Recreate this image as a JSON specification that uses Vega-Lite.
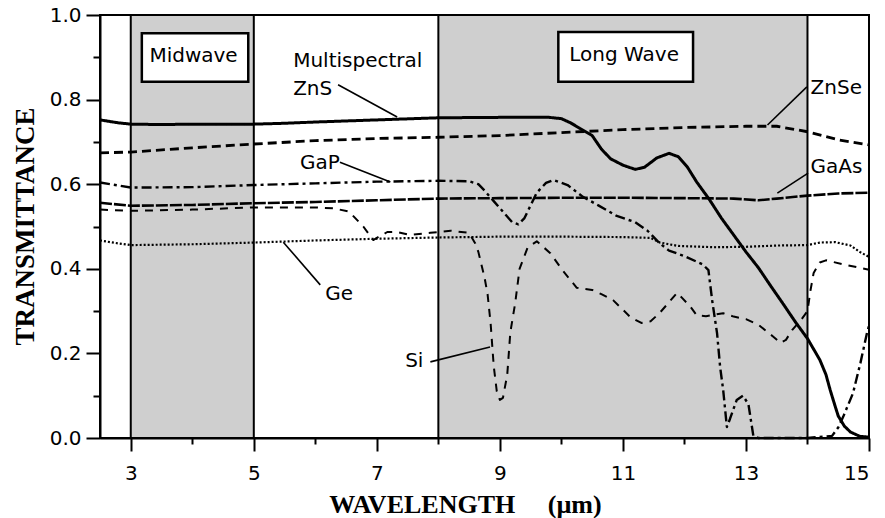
{
 "$schema": "https://vega.github.io/schema/vega-lite/v6.json",
 "width": 769,
 "height": 423,
 "autosize": "none",
 "padding": {"left": 100, "top": 15, "right": 16, "bottom": 80},
 "background": "white",
 "config": {
  "view": {"stroke": "black", "strokeWidth": 2},
  "axis": {"domainColor": "black", "domainWidth": 2, "tickColor": "black", "tickWidth": 2, "labelColor": "black", "labelFont": "DejaVu Sans", "labelFontSize": 20, "titleColor": "black", "titleFont": "Liberation Serif", "titleFontWeight": "bold", "grid": false}
 },
 "datasets": {
  "bands": [{"start": 3, "end": 5}, {"start": 8, "end": 14}],
  "boxes": [
   {"name": "Midwave", "x0": 3.18, "x1": 4.91, "y0": 0.842, "y1": 0.957, "cx": 4.02, "cy": 0.902},
   {"name": "Long Wave", "x0": 9.95, "x1": 12.14, "y0": 0.842, "y1": 0.96, "cx": 11.02, "cy": 0.905}
  ],
  "labels": [
   {"text": "Multispectral", "x": 5.64, "y": 0.892},
   {"text": "ZnS", "x": 5.64, "y": 0.824},
   {"text": "GaP", "x": 5.75, "y": 0.651},
   {"text": "Ge", "x": 6.16, "y": 0.34},
   {"text": "Si", "x": 7.46, "y": 0.182},
   {"text": "ZnSe", "x": 14.05, "y": 0.827},
   {"text": "GaAs", "x": 14.05, "y": 0.641}
  ],
  "leaders": [
   {"m": "ZnS", "x": 6.37, "y": 0.835, "x2": 7.33, "y2": 0.759},
   {"m": "GaP", "x": 6.4, "y": 0.652, "x2": 7.22, "y2": 0.605},
   {"m": "Ge", "x": 5.48, "y": 0.463, "x2": 6.08, "y2": 0.362},
   {"m": "Si", "x": 7.87, "y": 0.18, "x2": 8.84, "y2": 0.215},
   {"m": "ZnSe", "x": 13.99, "y": 0.83, "x2": 13.35, "y2": 0.74},
   {"m": "GaAs", "x": 14.01, "y": 0.626, "x2": 13.51, "y2": 0.579}
  ],
  "curves": [
   {"m":"ZnS","x":2.5,"y":0.752},{"m":"ZnS","x":2.8,"y":0.745},{"m":"ZnS","x":3.0,"y":0.742},{"m":"ZnS","x":3.5,"y":0.741},{"m":"ZnS","x":4.0,"y":0.742},{"m":"ZnS","x":5.0,"y":0.742},{"m":"ZnS","x":5.5,"y":0.744},{"m":"ZnS","x":6.0,"y":0.747},{"m":"ZnS","x":7.0,"y":0.752},{"m":"ZnS","x":8.0,"y":0.757},{"m":"ZnS","x":9.0,"y":0.758},{"m":"ZnS","x":9.8,"y":0.758},{"m":"ZnS","x":10.0,"y":0.755},{"m":"ZnS","x":10.15,"y":0.745},{"m":"ZnS","x":10.3,"y":0.732},{"m":"ZnS","x":10.5,"y":0.715},{"m":"ZnS","x":10.65,"y":0.683},{"m":"ZnS","x":10.8,"y":0.66},{"m":"ZnS","x":11.0,"y":0.645},{"m":"ZnS","x":11.2,"y":0.635},{"m":"ZnS","x":11.35,"y":0.64},{"m":"ZnS","x":11.55,"y":0.662},{"m":"ZnS","x":11.75,"y":0.673},{"m":"ZnS","x":11.9,"y":0.665},{"m":"ZnS","x":12.05,"y":0.64},{"m":"ZnS","x":12.2,"y":0.605},{"m":"ZnS","x":12.4,"y":0.565},{"m":"ZnS","x":12.6,"y":0.52},{"m":"ZnS","x":12.8,"y":0.48},{"m":"ZnS","x":13.0,"y":0.44},{"m":"ZnS","x":13.2,"y":0.403},{"m":"ZnS","x":13.4,"y":0.36},{"m":"ZnS","x":13.6,"y":0.318},{"m":"ZnS","x":13.8,"y":0.275},{"m":"ZnS","x":14.0,"y":0.235},{"m":"ZnS","x":14.2,"y":0.185},{"m":"ZnS","x":14.3,"y":0.15},{"m":"ZnS","x":14.37,"y":0.113},{"m":"ZnS","x":14.45,"y":0.075},{"m":"ZnS","x":14.5,"y":0.052},{"m":"ZnS","x":14.6,"y":0.028},{"m":"ZnS","x":14.7,"y":0.014},{"m":"ZnS","x":14.85,"y":0.004},{"m":"ZnS","x":15.0,"y":0.002},
   {"m":"ZnSe","x":2.5,"y":0.674},{"m":"ZnSe","x":3,"y":0.676},{"m":"ZnSe","x":4,"y":0.686},{"m":"ZnSe","x":5,"y":0.695},{"m":"ZnSe","x":6,"y":0.703},{"m":"ZnSe","x":7,"y":0.708},{"m":"ZnSe","x":8,"y":0.711},{"m":"ZnSe","x":9,"y":0.715},{"m":"ZnSe","x":10,"y":0.722},{"m":"ZnSe","x":11,"y":0.729},{"m":"ZnSe","x":12,"y":0.734},{"m":"ZnSe","x":13,"y":0.737},{"m":"ZnSe","x":13.5,"y":0.737},{"m":"ZnSe","x":14,"y":0.724},{"m":"ZnSe","x":14.5,"y":0.705},{"m":"ZnSe","x":15,"y":0.693},
   {"m":"GaAs","x":2.5,"y":0.556},{"m":"GaAs","x":3,"y":0.549},{"m":"GaAs","x":4,"y":0.551},{"m":"GaAs","x":5,"y":0.555},{"m":"GaAs","x":6,"y":0.558},{"m":"GaAs","x":7,"y":0.562},{"m":"GaAs","x":8,"y":0.566},{"m":"GaAs","x":9,"y":0.567},{"m":"GaAs","x":10,"y":0.568},{"m":"GaAs","x":11,"y":0.568},{"m":"GaAs","x":12,"y":0.567},{"m":"GaAs","x":12.8,"y":0.566},{"m":"GaAs","x":13.2,"y":0.562},{"m":"GaAs","x":13.5,"y":0.566},{"m":"GaAs","x":14,"y":0.573},{"m":"GaAs","x":14.5,"y":0.578},{"m":"GaAs","x":15,"y":0.58},
   {"m":"GaP","x":2.5,"y":0.604},{"m":"GaP","x":2.8,"y":0.597},{"m":"GaP","x":3,"y":0.592},{"m":"GaP","x":4,"y":0.593},{"m":"GaP","x":5,"y":0.598},{"m":"GaP","x":6,"y":0.602},{"m":"GaP","x":7,"y":0.606},{"m":"GaP","x":8,"y":0.608},{"m":"GaP","x":8.5,"y":0.607},{"m":"GaP","x":8.65,"y":0.6},{"m":"GaP","x":8.75,"y":0.585},{"m":"GaP","x":8.9,"y":0.56},{"m":"GaP","x":9.05,"y":0.535},{"m":"GaP","x":9.2,"y":0.51},{"m":"GaP","x":9.3,"y":0.505},{"m":"GaP","x":9.4,"y":0.52},{"m":"GaP","x":9.5,"y":0.55},{"m":"GaP","x":9.6,"y":0.58},{"m":"GaP","x":9.75,"y":0.603},{"m":"GaP","x":9.87,"y":0.61},{"m":"GaP","x":10.1,"y":0.598},{"m":"GaP","x":10.35,"y":0.57},{"m":"GaP","x":10.6,"y":0.55},{"m":"GaP","x":10.9,"y":0.525},{"m":"GaP","x":11.2,"y":0.51},{"m":"GaP","x":11.4,"y":0.49},{"m":"GaP","x":11.6,"y":0.46},{"m":"GaP","x":11.75,"y":0.443},{"m":"GaP","x":12.0,"y":0.43},{"m":"GaP","x":12.3,"y":0.41},{"m":"GaP","x":12.39,"y":0.397},{"m":"GaP","x":12.45,"y":0.326},{"m":"GaP","x":12.53,"y":0.248},{"m":"GaP","x":12.58,"y":0.168},{"m":"GaP","x":12.63,"y":0.113},{"m":"GaP","x":12.69,"y":0.026},{"m":"GaP","x":12.74,"y":0.045},{"m":"GaP","x":12.85,"y":0.09},{"m":"GaP","x":12.95,"y":0.1},{"m":"GaP","x":13.04,"y":0.08},{"m":"GaP","x":13.12,"y":0.005},{"m":"GaP","x":13.2,"y":0.0},{"m":"GaP","x":14.0,"y":0.0},{"m":"GaP","x":14.4,"y":0.005},{"m":"GaP","x":14.5,"y":0.025},{"m":"GaP","x":14.58,"y":0.05},{"m":"GaP","x":14.74,"y":0.106},{"m":"GaP","x":14.86,"y":0.177},{"m":"GaP","x":14.97,"y":0.25},{"m":"GaP","x":15.0,"y":0.265},
   {"m":"Ge","x":2.5,"y":0.467},{"m":"Ge","x":2.8,"y":0.46},{"m":"Ge","x":3,"y":0.456},{"m":"Ge","x":4,"y":0.458},{"m":"Ge","x":5,"y":0.462},{"m":"Ge","x":6,"y":0.467},{"m":"Ge","x":7,"y":0.471},{"m":"Ge","x":8,"y":0.474},{"m":"Ge","x":9,"y":0.476},{"m":"Ge","x":10,"y":0.476},{"m":"Ge","x":11,"y":0.475},{"m":"Ge","x":11.45,"y":0.473},{"m":"Ge","x":11.6,"y":0.462},{"m":"Ge","x":11.9,"y":0.454},{"m":"Ge","x":12.5,"y":0.451},{"m":"Ge","x":13,"y":0.452},{"m":"Ge","x":13.5,"y":0.455},{"m":"Ge","x":14,"y":0.456},{"m":"Ge","x":14.2,"y":0.462},{"m":"Ge","x":14.45,"y":0.463},{"m":"Ge","x":14.7,"y":0.455},{"m":"Ge","x":14.85,"y":0.44},{"m":"Ge","x":15,"y":0.428},
   {"m":"Si","x":2.5,"y":0.54},{"m":"Si","x":3,"y":0.537},{"m":"Si","x":4,"y":0.54},{"m":"Si","x":5,"y":0.545},{"m":"Si","x":6,"y":0.545},{"m":"Si","x":6.3,"y":0.543},{"m":"Si","x":6.55,"y":0.535},{"m":"Si","x":6.78,"y":0.5},{"m":"Si","x":6.94,"y":0.468},{"m":"Si","x":7.17,"y":0.487},{"m":"Si","x":7.33,"y":0.487},{"m":"Si","x":7.54,"y":0.48},{"m":"Si","x":7.87,"y":0.485},{"m":"Si","x":8.2,"y":0.49},{"m":"Si","x":8.5,"y":0.485},{"m":"Si","x":8.6,"y":0.46},{"m":"Si","x":8.65,"y":0.44},{"m":"Si","x":8.75,"y":0.38},{"m":"Si","x":8.8,"y":0.34},{"m":"Si","x":8.85,"y":0.27},{"m":"Si","x":8.9,"y":0.17},{"m":"Si","x":8.95,"y":0.11},{"m":"Si","x":9.0,"y":0.09},{"m":"Si","x":9.05,"y":0.095},{"m":"Si","x":9.12,"y":0.15},{"m":"Si","x":9.17,"y":0.25},{"m":"Si","x":9.25,"y":0.32},{"m":"Si","x":9.32,"y":0.4},{"m":"Si","x":9.45,"y":0.45},{"m":"Si","x":9.6,"y":0.465},{"m":"Si","x":9.82,"y":0.437},{"m":"Si","x":10.0,"y":0.4},{"m":"Si","x":10.25,"y":0.355},{"m":"Si","x":10.5,"y":0.35},{"m":"Si","x":10.65,"y":0.34},{"m":"Si","x":10.84,"y":0.326},{"m":"Si","x":11.12,"y":0.286},{"m":"Si","x":11.3,"y":0.272},{"m":"Si","x":11.45,"y":0.276},{"m":"Si","x":11.6,"y":0.296},{"m":"Si","x":11.88,"y":0.343},{"m":"Si","x":11.95,"y":0.333},{"m":"Si","x":12.1,"y":0.31},{"m":"Si","x":12.2,"y":0.29},{"m":"Si","x":12.35,"y":0.288},{"m":"Si","x":12.63,"y":0.295},{"m":"Si","x":12.8,"y":0.287},{"m":"Si","x":13.0,"y":0.281},{"m":"Si","x":13.2,"y":0.268},{"m":"Si","x":13.44,"y":0.24},{"m":"Si","x":13.56,"y":0.225},{"m":"Si","x":13.65,"y":0.232},{"m":"Si","x":13.75,"y":0.255},{"m":"Si","x":13.9,"y":0.28},{"m":"Si","x":14.0,"y":0.3},{"m":"Si","x":14.05,"y":0.35},{"m":"Si","x":14.1,"y":0.39},{"m":"Si","x":14.2,"y":0.415},{"m":"Si","x":14.3,"y":0.42},{"m":"Si","x":14.6,"y":0.41},{"m":"Si","x":15,"y":0.398}
  ]
 },
 "layer": [
  {
   "data": {"name": "bands"},
   "mark": {"type": "rect", "fill": "#cfcfcf", "stroke": "black", "strokeWidth": 2},
   "encoding": {
    "x": {"field": "start", "type": "quantitative", "scale": {"domain": [2.5, 15], "nice": false, "zero": false},
     "axis": {"values": [3,4,5,6,7,8,9,10,11,12,13,14,15], "format": "d", "labelExpr": "datum.value % 2 == 1 ? datum.label : ''",
      "tickSize": {"condition": {"test": "datum.value % 2 == 0", "value": 6}, "value": 13},
      "labelPadding": 12, "titleFontSize": 26, "titleX": 365, "titleY": 74, "titleAlign": "center", "titleBaseline": "alphabetic"},
     "title": "WAVELENGTH\u00a0\u00a0\u00a0\u00a0\u00a0(µm)"},
    "x2": {"field": "end"},
    "y": {"datum": 0, "type": "quantitative", "scale": {"domain": [0, 1], "nice": false, "zero": false},
     "axis": {"values": [0,0.1,0.2,0.3,0.4,0.5,0.6,0.7,0.8,0.9,1.0], "format": ".1f", "labelExpr": "round(datum.value*10) % 2 == 0 ? datum.label : ''",
      "tickSize": {"condition": {"test": "round(datum.value*10) % 2 == 1", "value": 7}, "value": 14},
      "labelPadding": 5, "titleFontSize": 27, "titleX": -67, "titleY": 211, "titleAngle": -90, "titleAlign": "center", "titleBaseline": "alphabetic"},
     "title": "TRANSMITTANCE"},
    "y2": {"datum": 1}
   }
  },
  {
   "data": {"name": "curves"},
   "mark": {"type": "line", "color": "black", "strokeCap": "butt", "strokeJoin": "round"},
   "encoding": {
    "x": {"field": "x", "type": "quantitative", "title": "WAVELENGTH\u00a0\u00a0\u00a0\u00a0\u00a0(µm)"},
    "y": {"field": "y", "type": "quantitative", "title": "TRANSMITTANCE"},
    "strokeDash": {"field": "m", "type": "nominal", "scale": {"domain": ["ZnS","ZnSe","GaAs","GaP","Ge","Si"], "range": [[1,0],[9,5],[12,2],[10,4,3,4],[2,2],[8,7]]}, "legend": null},
    "strokeWidth": {"field": "m", "type": "nominal", "scale": {"domain": ["ZnS","ZnSe","GaAs","GaP","Ge","Si"], "range": [3,2,1.6,2,2,2]}, "legend": null}
   }
  },
  {
   "data": {"name": "leaders"},
   "mark": {"type": "rule", "color": "black", "strokeWidth": 1.6},
   "encoding": {
    "x": {"field": "x", "type": "quantitative", "title": "WAVELENGTH\u00a0\u00a0\u00a0\u00a0\u00a0(µm)"},
    "y": {"field": "y", "type": "quantitative", "title": "TRANSMITTANCE"},
    "x2": {"field": "x2"},
    "y2": {"field": "y2"}
   }
  },
  {
   "data": {"name": "boxes"},
   "mark": {"type": "rect", "fill": "white", "stroke": "black", "strokeWidth": 2.5},
   "encoding": {
    "x": {"field": "x0", "type": "quantitative", "title": "WAVELENGTH\u00a0\u00a0\u00a0\u00a0\u00a0(µm)"},
    "x2": {"field": "x1"},
    "y": {"field": "y0", "type": "quantitative", "title": "TRANSMITTANCE"},
    "y2": {"field": "y1"}
   }
  },
  {
   "data": {"name": "boxes"},
   "mark": {"type": "text", "font": "DejaVu Sans", "fontSize": 20, "color": "black", "align": "center", "baseline": "middle"},
   "encoding": {
    "x": {"field": "cx", "type": "quantitative", "title": "WAVELENGTH\u00a0\u00a0\u00a0\u00a0\u00a0(µm)"},
    "y": {"field": "cy", "type": "quantitative", "title": "TRANSMITTANCE"},
    "text": {"field": "name"}
   }
  },
  {
   "data": {"name": "labels"},
   "mark": {"type": "text", "font": "DejaVu Sans", "fontSize": 20, "color": "black", "align": "left", "baseline": "middle"},
   "encoding": {
    "x": {"field": "x", "type": "quantitative", "title": "WAVELENGTH\u00a0\u00a0\u00a0\u00a0\u00a0(µm)"},
    "y": {"field": "y", "type": "quantitative", "title": "TRANSMITTANCE"},
    "text": {"field": "text"}
   }
  }
 ]
}
